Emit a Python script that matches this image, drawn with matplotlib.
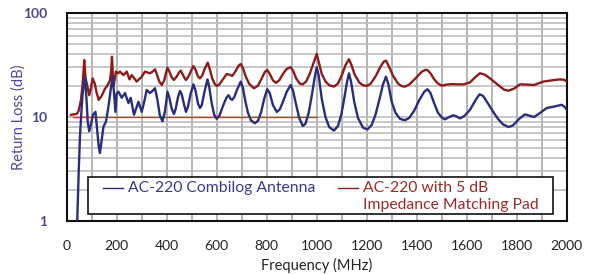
import matplotlib
matplotlib.use('Agg')
import matplotlib.pyplot as plt
from matplotlib.patches import Rectangle
from matplotlib.ticker import FixedLocator, NullFormatter

plt.rcParams['font.family'] = ['Lato', 'DejaVu Sans']

# AC-220 Combilog Antenna (blue)
blue_f = [42, 48, 53, 58, 63, 70, 74, 79, 84, 90, 97, 105, 115, 122, 128, 133, 140, 147, 157, 168,
          178, 184, 189, 195, 200, 207, 220, 233, 247, 256, 269, 287, 300,
          310, 320, 333, 345, 353, 362, 372, 383, 392, 398, 403, 410, 420, 429, 436, 445, 453, 460,
          470, 477, 485, 495, 507, 515, 525, 533, 540, 550, 563, 570, 580, 590, 600, 610, 620, 629,
          640, 647, 655, 662, 670, 680, 696, 705, 715, 725, 737, 753, 765, 777, 790, 802, 812, 825,
          840, 852, 865, 880, 896, 905, 915, 930, 944, 955, 968, 982, 993, 1000, 1008, 1020, 1035,
          1050, 1069, 1085, 1098, 1110, 1120, 1129, 1137, 1150, 1165, 1185, 1203, 1220, 1235, 1250,
          1265, 1277, 1287, 1300, 1315, 1333, 1353, 1370, 1390, 1410, 1430, 1443, 1455, 1470, 1485,
          1500, 1513, 1530, 1547, 1560, 1573, 1590, 1613, 1635, 1651, 1665, 1685, 1705, 1725, 1745,
          1767, 1785, 1810, 1833, 1850, 1869, 1890, 1920, 1950, 1980, 1990, 2000]
blue_rl = [1.0, 3, 6.5, 10.5, 16, 22, 23.5, 15, 9, 7.3, 8.5, 10.5, 11.2, 7.5, 5.2, 4.5, 6, 8.1, 9.0,
           13.1, 20, 24.4, 17, 11.2, 16.9, 17.5, 15.3, 17, 13.6, 15.3, 10.5, 14.0, 11.2,
           14, 18.2, 17, 18, 18.9, 15, 10.5, 9.1, 11, 14, 17.5, 15.5, 12, 10.7, 12, 15.5, 17.8, 16.5,
           13, 11.2, 12.5, 16.5, 20.6, 18, 13.5, 12.2, 13, 17, 23, 19.5, 13.5, 10.5, 9.6, 10.2, 11.8,
           13.5, 15.5, 16.2, 15, 14.6, 15.5, 18, 21.9, 19, 14, 11, 9.3, 8.7, 9.2, 11, 15, 18.5, 17, 13,
           11.2, 11.8, 14, 17.5, 20.3, 18, 14, 9.8, 8.2, 8.6, 11, 17, 25, 30.1, 25, 15, 10,
           8, 7.4, 8.2, 10.5, 15, 21, 26.3, 22, 14, 9.8, 7.9, 7.6, 8.4, 10.5, 14.5,
           20.5, 24.4, 20.5, 14, 11, 9.6, 9.3, 9.8, 11.5, 14.5, 17.5, 18.5, 17, 13.5, 11,
           9.9, 9.5, 10, 10.4, 10.1, 9.7, 10.2, 11.7, 14.5, 16.5, 16, 13.5, 11.3, 9.6, 8.5,
           8.0, 8.3, 9.6, 10.6, 10.3, 10, 10.8, 12.2, 12.6, 13.1, 12.6, 11.8]

# AC-220 with 5 dB Impedance Matching Pad (red)
red_f = [17, 40, 48, 57, 63, 67, 70, 75, 84, 90, 97, 104, 112, 120, 128, 140, 152, 164, 173, 178,
         181, 185, 188, 197, 205, 213, 227, 240, 251, 260, 270, 280, 300,
         313, 333, 345, 353, 360, 370, 380, 390, 397, 403, 410, 420, 429, 440, 450, 456, 463, 472,
         477, 487, 498, 507, 515, 525, 533, 542, 553, 564, 572, 582, 592, 600, 610, 622, 640, 652,
         662, 675, 687, 696, 705, 716, 730, 749, 765, 780, 792, 802, 812, 825, 837, 850, 865, 880,
         896, 905, 918, 932, 944, 958, 972, 987, 1000, 1008, 1020, 1035, 1050, 1069, 1085, 1100,
         1115, 1129, 1138, 1152, 1170, 1185, 1200, 1215, 1235, 1255, 1268, 1277, 1288, 1305, 1325,
         1340, 1353, 1370, 1395, 1420, 1435, 1443, 1455, 1470, 1485, 1500, 1520, 1540, 1565, 1587,
         1613, 1633, 1653, 1673, 1693, 1713, 1735, 1750, 1767, 1790, 1813, 1840, 1869, 1890, 1907,
         1940, 1973, 1990, 2000]
red_rl = [10.5, 10.7, 11.5, 14.6, 20, 27, 35.3, 24, 18.9, 16.2, 19, 23.5, 21, 17, 14.6, 16, 18.5,
          20.3, 22.5, 28, 38, 24, 20.3, 27.3, 26.3, 27.3, 25.3, 27.3, 23, 25.3, 23.5, 21.9, 24.4,
          27.3, 26.3, 27.5, 28.7, 26, 22, 20.3, 22.5, 26.5, 29.8, 27.5, 24, 22.7, 24.5, 27, 27.9, 26,
          23.5, 22.7, 24.5, 28, 30.9, 28.5, 24.5, 23.5, 25, 29.5, 33.3, 29, 23.5, 20.8, 19.9, 20.5,
          22.5, 25.9, 25.5, 24.8, 27.5, 31, 32.3, 29.5, 24.5, 20.8, 18.9, 20, 23.5, 27, 28.3, 26,
          22.5, 21.3, 22.5, 26, 29, 30.1, 28, 23.5, 21, 20.6, 22, 26, 33, 40.4, 34, 26, 22, 20.2,
          19.6, 21, 25, 31.5, 35.9, 32, 25.5, 21.5, 20.2, 19.9, 20.8, 24.5, 30.5, 34, 34.8, 31, 25,
          21, 19.8, 19.6, 20.5, 23.5, 27.2, 28.4, 28.3, 26.3, 23, 21, 20, 20.5, 20.7, 20.6, 20.6,
          21.5, 24, 26.3, 25.5, 23.5, 21.5, 19.5, 18.3, 17.9, 18.8, 20.6, 20.5, 20.3, 21.2, 21.9,
          22.5, 23, 22.8, 21.9]

# 10 dB reference line
ref_f = [25, 1000]
ref_rl = [10, 10]

x_ticks = list(range(0, 2001, 200))
y_ticks = [1, 10, 100]

blue = '#2a2d7c'
red = '#8c1c1c'

fig = plt.figure(figsize=(5.92, 2.74), dpi=100)
ax = fig.add_axes([0.1127, 0.1934, 0.8446, 0.7592])

ax.set_yscale('log')
ax.set_xlim(0, 2000)
ax.set_ylim(1, 100)

ax.xaxis.set_major_locator(FixedLocator(x_ticks))
ax.xaxis.set_minor_locator(FixedLocator(list(range(100, 2000, 200))))
ax.yaxis.set_major_locator(FixedLocator(y_ticks))
ax.yaxis.set_minor_locator(FixedLocator([m * d for d in (1, 10) for m in range(2, 10)]))
ax.yaxis.set_minor_formatter(NullFormatter())
ax.set_yticklabels([str(v) for v in y_ticks])

ax.grid(True, which='both', axis='x', color='#a8a8a8', lw=1.2)
ax.grid(True, which='both', axis='y', color='#bdbdbd', lw=1.2)
ax.set_axisbelow(True)
ax.tick_params(which='both', length=0)
ax.tick_params(axis='x', labelsize=10, colors='#222222', pad=14)
ax.tick_params(axis='y', labelsize=10, labelcolor='#4a4a8c', pad=14)
for lab in ax.get_yticklabels():
    lab.set_fontweight('bold')

for s in ax.spines.values():
    s.set_linewidth(1.5)
    s.set_color('#111111')

ax.plot(ref_f, ref_rl, color='#e8302a', lw=1.0, zorder=2)
ax.plot(red_f, red_rl, color=red, lw=1.7, zorder=3)
ax.plot(blue_f, blue_rl, color=blue, lw=1.7, zorder=4)

ax.set_xlabel('Frequency (MHz)', fontsize=10.5, color='#222222', labelpad=4)
ax.set_ylabel('Return Loss (dB)', fontsize=10.5, color='#4a4a96', labelpad=-2)

# legend box
tr = ax.transAxes
ax.add_patch(Rectangle((0.043, 0.034), 0.93, 0.177, transform=tr, facecolor='white',
                       edgecolor='#111111', lw=1.2, zorder=10))
ax.plot([0.073, 0.113], [0.159, 0.159], transform=tr, color=blue, lw=1.0, zorder=11)
ax.text(0.123, 0.159, 'AC-220 Combilog Antenna', transform=tr, color='#3a3a8a',
        fontsize=11.3, va='center', zorder=11)
ax.plot([0.543, 0.583], [0.159, 0.159], transform=tr, color=red, lw=1.0, zorder=11)
ax.text(0.592, 0.159, 'AC-220 with 5 dB', transform=tr, color='#9a2a2a',
        fontsize=11.3, va='center', zorder=11)
ax.text(0.592, 0.077, 'Impedance Matching Pad', transform=tr, color='#9a2a2a',
        fontsize=11.3, va='center', zorder=11)

fig.savefig('out.png', dpi=100)
